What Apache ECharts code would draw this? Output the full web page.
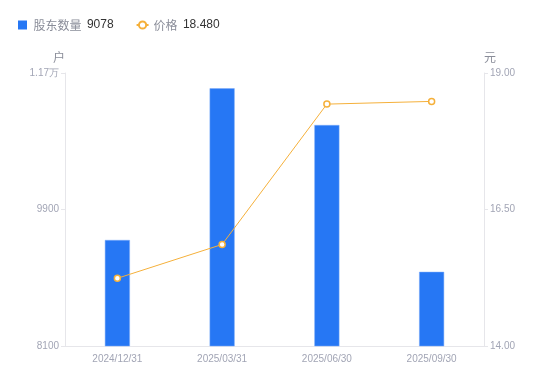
<!DOCTYPE html>
<html lang="zh">
<head>
    <meta charset="UTF-8">
    <title>股东数量与价格</title>
    <script src="https://cdn.jsdelivr.net/npm/echarts@6/dist/echarts.min.js"></script>
    <style>
        html, body { margin: 0; padding: 0; background: #fff; }
        #main { width: 550px; height: 381px; }
    </style>
</head>
<body>
    <div id="main"></div>
    <script type="text/javascript">
        // 数据
        var dates = ['2024/12/31', '2025/03/31', '2025/06/30', '2025/09/30'];
        var holders = [9498, 11498, 11014, 9078];
        var prices = [15.24, 15.86, 18.43, 18.48];

        var leftTicks = { min: 8100, max: 11700, interval: 1800 };
        var rightTicks = { min: 14, max: 19, interval: 2.5 };

        var labelColor = '#a2a5b5';
        var lineColor = '#e6e6ea';

        var myChart = echarts.init(document.getElementById('main'));

        var option = {
            animation: false,
            textStyle: { fontFamily: '"Noto Sans CJK SC", "Liberation Sans", sans-serif' },
            legend: {
                left: 13,
                top: 14,
                itemWidth: 12,
                itemHeight: 9,
                itemGap: 22,
                data: [
                    { name: '股东数量', icon: 'path://M0,0H10V10H0Z', itemStyle: { borderWidth: 0 } },
                    { name: '价格' }
                ],
                formatter: function (name) {
                    var v = name === '股东数量' ? holders[holders.length - 1] : prices[prices.length - 1].toFixed(3);
                    return '{n|' + name + '}  {v|' + v + '}';
                },
                textStyle: {
                    rich: {
                        n: { color: '#8a8d99', fontSize: 12 },
                        v: { color: '#333', fontSize: 12, fontFamily: '"Liberation Sans", sans-serif' }
                    }
                }
            },
            grid: { left: 65, right: 66, top: 73, bottom: 35 },
            xAxis: {
                type: 'category',
                data: dates,
                axisLine: { lineStyle: { color: lineColor } },
                axisTick: { show: false },
                axisLabel: { color: labelColor, fontSize: 10, margin: 8, fontFamily: '"Liberation Sans", sans-serif' }
            },
            yAxis: [
                {
                    type: 'value',
                    name: '户',
                    nameGap: 10,
                    nameTextStyle: { color: '#8a8d99', fontSize: 12, align: 'right' },
                    min: leftTicks.min,
                    max: leftTicks.max,
                    interval: leftTicks.interval,
                    axisLine: { show: true, lineStyle: { color: lineColor } },
                    axisTick: { show: true, length: 4, lineStyle: { color: lineColor } },
                    splitLine: { show: false },
                    axisLabel: {
                        color: labelColor,
                        fontSize: 10,
                        margin: 6,
                        fontFamily: '"Liberation Sans", sans-serif',
                        formatter: function (v) {
                            return v >= 10000 ? (v / 10000).toFixed(2) + '万' : v;
                        }
                    }
                },
                {
                    type: 'value',
                    name: '元',
                    nameGap: 10,
                    nameTextStyle: { color: '#8a8d99', fontSize: 12, align: 'left' },
                    min: rightTicks.min,
                    max: rightTicks.max,
                    interval: rightTicks.interval,
                    axisLine: { show: true, lineStyle: { color: lineColor } },
                    axisTick: { show: true, length: 4, lineStyle: { color: lineColor } },
                    splitLine: { show: false },
                    axisLabel: {
                        color: labelColor,
                        fontSize: 10,
                        margin: 6,
                        fontFamily: '"Liberation Sans", sans-serif',
                        formatter: function (v) { return v.toFixed(2); }
                    }
                }
            ],
            series: [
                {
                    name: '股东数量',
                    type: 'bar',
                    data: holders,
                    barWidth: 25,
                    itemStyle: { color: '#2677f4', borderColor: '#7aaaf8', borderWidth: 0.5 }
                },
                {
                    name: '价格',
                    type: 'line',
                    yAxisIndex: 1,
                    data: prices,
                    symbol: 'circle',
                    symbolSize: 6,
                    itemStyle: { color: '#fff', borderColor: '#f5b03a', borderWidth: 1.5 },
                    lineStyle: { color: '#f5b03a', width: 1 }
                }
            ]
        };

        myChart.setOption(option);
    </script>
</body>
</html>
